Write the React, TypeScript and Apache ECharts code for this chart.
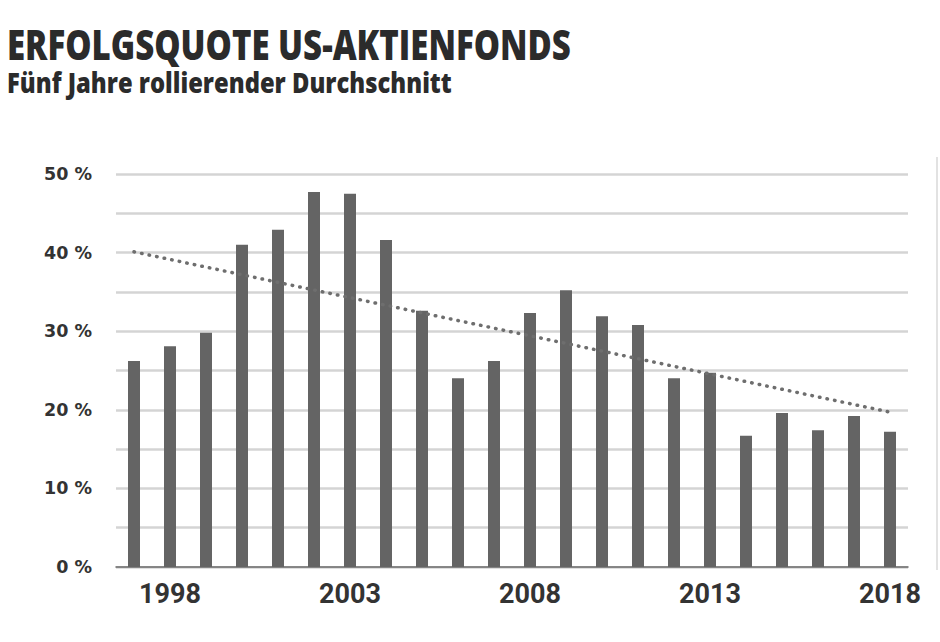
import React, { useEffect, useRef } from "react";
import * as echarts from "echarts";

const years = ["1997","1998","1999","2000","2001","2002","2003","2004","2005","2006","2007","2008","2009","2010","2011","2012","2013","2014","2015","2016","2017","2018"];
const successRate = [26.2, 28.1, 29.8, 41.0, 42.9, 47.7, 47.5, 41.6, 32.6, 24.0, 26.2, 32.3, 35.2, 31.9, 30.8, 24.0, 24.7, 16.7, 19.6, 17.4, 19.2, 17.2];
const trendStart = 40.1;
const trendEnd = 19.7;
const yTicks = [0, 10, 20, 30, 40, 50];
const titleText = "ERFOLGSQUOTE US-AKTIENFONDS";
const subtitleText = "Fünf Jahre rollierender Durchschnitt";

function fitScale(text: string, font: string, target: number): number {
  const c = document.createElement("canvas").getContext("2d");
  if (!c) return 1;
  c.font = font;
  const w = c.measureText(text).width;
  return w > 0 ? target / w : 1;
}

export default function App() {
  const ref = useRef<HTMLDivElement>(null);
  useEffect(() => {
    document.body.style.margin = "0";
    if (!ref.current) return;
    const chart = echarts.init(ref.current, null, { renderer: "svg" });
    const titleFont = '800 43px "Open Sans"';
    const subFont = '800 28px "Open Sans"';
    const sTitle = fitScale(titleText, titleFont, 564);
    const sSub = fitScale(subtitleText, subFont, 445);
    const trend = years.map((_, i) => (i === 0 ? trendStart : i === years.length - 1 ? trendEnd : null));
    chart.setOption({
      animation: false,
      backgroundColor: "#ffffff",
      grid: { left: 116, right: 32, top: 174, height: 393 },
      graphic: [
        {
          type: "text", x: 7, y: 43, scaleX: sTitle,
          style: { text: titleText, font: titleFont, fill: "#2b2b2b", verticalAlign: "middle", align: "left" },
        },
        {
          type: "text", x: 7, y: 82, scaleX: sSub,
          style: { text: subtitleText, font: subFont, fill: "#2b2b2b", verticalAlign: "middle", align: "left" },
        },
        {
          type: "rect", shape: { x: 936, y: 157, width: 2, height: 413 },
          style: { fill: "#e2e2e2" },
        },
      ],
      xAxis: {
        type: "category",
        data: years,
        boundaryGap: true,
        axisTick: { show: false },
        axisLine: { lineStyle: { color: "#6a6a6a", width: 1.5 } },
        axisLabel: {
          interval: (i: number) => (i - 1) % 5 === 0,
          margin: 13,
          fontFamily: "Roboto",
          fontWeight: "bold",
          fontSize: 27,
          color: "#333333",
        },
      },
      yAxis: {
        type: "value",
        min: 0,
        max: 50,
        interval: 5,
        axisLine: { show: false },
        axisTick: { show: false },
        splitLine: { lineStyle: { color: "#d4d4d4", width: 2.5 } },
        axisLabel: {
          margin: 24,
          fontFamily: "DejaVu Sans",
          fontWeight: "bold",
          fontSize: 17.5,
          color: "#333333",
          formatter: (v: number) => (yTicks.includes(v) ? `${v} %` : ""),
        },
      },
      series: [
        {
          type: "bar",
          data: successRate,
          barWidth: 12,
          itemStyle: { color: "#646464" },
        },
        {
          type: "line",
          data: trend,
          connectNulls: true,
          symbol: "none",
          z: 5,
          lineStyle: { color: "#6e6e6e", width: 3.5, type: [0.5, 7.2], cap: "round" },
        },
      ],
    });
    return () => chart.dispose();
  }, []);
  return <div ref={ref} style={{ width: 940, height: 642 }} />;
}
